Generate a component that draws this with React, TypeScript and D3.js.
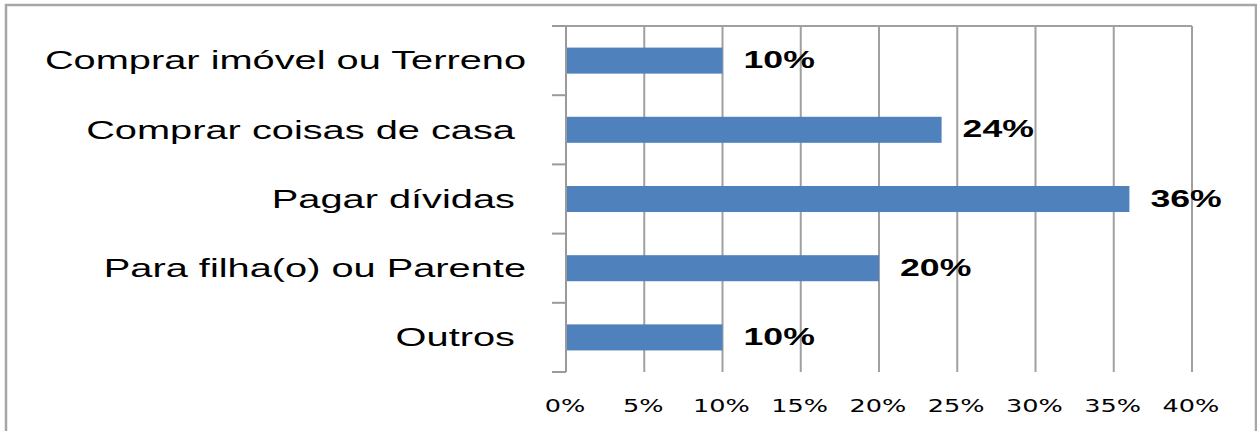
import { useEffect, useRef } from "react";
import { select, scaleLinear, scaleBand } from "d3";

// categories as they appear on the chart (some carry a trailing space in the original)
const categories = [
  "Comprar imóvel ou Terreno",
  "Comprar coisas de casa ",
  "Pagar dívidas ",
  "Para filha(o) ou Parente",
  "Outros ",
];
const values = [10, 24, 36, 20, 10];
const xTicks = [0, 5, 10, 15, 20, 25, 30, 35, 40];

const WIDTH = 1257;
const HEIGHT = 431;
const STRETCH = 1.53; // the source image is stretched horizontally

export default function App() {
  const svgRef = useRef<SVGSVGElement>(null);

  useEffect(() => {
    const svg = select(svgRef.current);
    svg.selectAll("*").remove();

    const plot = { left: 566, right: 1192, top: 26, bottom: 372 };

    const x = scaleLinear().domain([0, 40]).range([plot.left, plot.right]);
    const y = scaleBand<string>()
      .domain(categories)
      .range([plot.top, plot.bottom])
      .paddingInner(0.624)
      .paddingOuter(0.312);

    // outer chart border
    svg
      .append("rect")
      .attr("x", 6)
      .attr("y", 5)
      .attr("width", WIDTH - 7)
      .attr("height", HEIGHT + 20)
      .attr("fill", "#fff")
      .attr("stroke", "#a6a6a6")
      .attr("stroke-width", 2.5);

    // vertical gridlines
    svg
      .append("g")
      .selectAll("line")
      .data(xTicks.slice(1))
      .join("line")
      .attr("x1", (d) => x(d))
      .attr("x2", (d) => x(d))
      .attr("y1", plot.top)
      .attr("y2", plot.bottom)
      .attr("stroke", "#a0a0a0")
      .attr("stroke-width", 2);

    // top border of the plot area
    svg
      .append("line")
      .attr("x1", plot.left)
      .attr("x2", plot.right)
      .attr("y1", plot.top)
      .attr("y2", plot.top)
      .attr("stroke", "#a0a0a0")
      .attr("stroke-width", 2);

    // bars
    svg
      .append("g")
      .selectAll("rect")
      .data(values)
      .join("rect")
      .attr("x", x(0))
      .attr("y", (_, i) => y(categories[i]) ?? 0)
      .attr("width", (d) => x(d) - x(0))
      .attr("height", y.bandwidth())
      .attr("fill", "#4f81bd");

    // category axis line + ticks at band boundaries
    svg
      .append("line")
      .attr("x1", plot.left)
      .attr("x2", plot.left)
      .attr("y1", plot.top)
      .attr("y2", plot.bottom)
      .attr("stroke", "#9a9a9a")
      .attr("stroke-width", 2);

    const step = y.step();
    svg
      .append("g")
      .selectAll("line")
      .data(categories.concat([""]))
      .join("line")
      .attr("x1", plot.left - 14)
      .attr("x2", plot.left)
      .attr("y1", (_, i) => plot.top + i * step)
      .attr("y2", (_, i) => plot.top + i * step)
      .attr("stroke", "#9a9a9a")
      .attr("stroke-width", 2);

    // category labels
    svg
      .append("g")
      .selectAll("text")
      .data(categories)
      .join("text")
      .attr(
        "transform",
        (d) =>
          `translate(${plot.left - 40},${(y(d) ?? 0) + y.bandwidth() / 2}) scale(${STRETCH},1)`,
      )
      .attr("dy", "0.34em")
      .attr("text-anchor", "end")
      .style("white-space", "pre")
      .attr("font-family", "'Liberation Sans', Arial, sans-serif")
      .attr("font-size", 26)
      .attr("fill", "#000")
      .text((d) => d);

    // value labels
    svg
      .append("g")
      .selectAll("text")
      .data(values)
      .join("text")
      .attr(
        "transform",
        (d, i) =>
          `translate(${x(d) + 21},${(y(categories[i]) ?? 0) + y.bandwidth() / 2}) scale(1.55,1)`,
      )
      .attr("dy", "0.33em")
      .attr("font-family", "'Liberation Sans', Arial, sans-serif")
      .attr("font-weight", "bold")
      .attr("font-size", 23)
      .attr("fill", "#000")
      .text((d) => `${d}%`);

    // x tick labels
    svg
      .append("g")
      .selectAll("text")
      .data(xTicks)
      .join("text")
      .attr("transform", (d) => `translate(${x(d) - 1},412) scale(1.42,1)`)
      .attr("text-anchor", "middle")
      .attr("font-family", "'DejaVu Sans', Verdana, sans-serif")
      .attr("font-size", 18)
      .attr("fill", "#000")
      .text((d) => `${d}%`);
  }, []);

  return (
    <svg
      ref={svgRef}
      width={WIDTH}
      height={HEIGHT}
      style={{ position: "absolute", left: 0, top: 0, background: "#fff" }}
    />
  );
}
